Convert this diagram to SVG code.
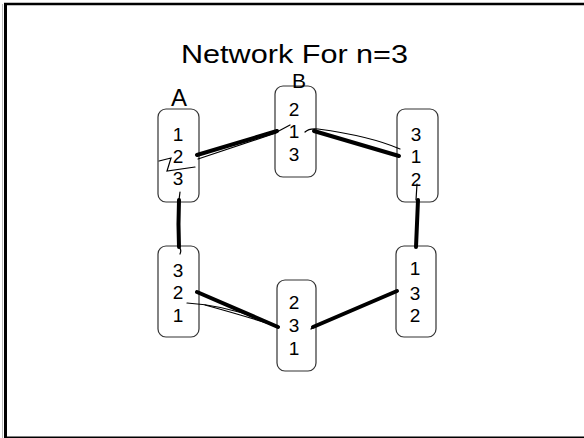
<svg xmlns="http://www.w3.org/2000/svg" width="584" height="438" viewBox="0 0 584 438">
<style>
.box{fill:#fff;stroke:#333;stroke-width:1.2}
.d{font-family:"Liberation Sans","DejaVu Sans",sans-serif;font-size:19px;fill:#000;text-anchor:middle}
.lbl{font-family:"Liberation Sans","DejaVu Sans",sans-serif;fill:#000;text-anchor:middle}
.thick{fill:none;stroke:#000;stroke-width:4;stroke-linecap:round}
.thin{fill:none;stroke:#000;stroke-width:1.2;stroke-linecap:round}
</style>
<rect x="0" y="0" width="584" height="438" fill="#fff"/>
<g id="frame">
<line x1="2.5" y1="4" x2="2.5" y2="438" stroke="#bbb" stroke-width="1"/>
<line x1="4" y1="4" x2="584" y2="4" stroke="#000" stroke-width="2.5"/>
<line x1="5.5" y1="3" x2="5.5" y2="438" stroke="#000" stroke-width="3"/>
<line x1="4" y1="437.3" x2="584" y2="437.3" stroke="#000" stroke-width="1.6"/>
</g>
<text id="title" x="294.5" y="63" font-family="Liberation Sans, DejaVu Sans, sans-serif" font-size="25" text-anchor="middle" textLength="227" lengthAdjust="spacingAndGlyphs">Network For n=3</text>
<g id="nodeA">
<rect class="box" x="158" y="109" width="41" height="93" rx="8"/>
<text class="d" x="178" y="141">1</text>
<text class="d" x="178" y="163">2</text>
<text class="d" x="178" y="185">3</text>
<text class="lbl" x="179" y="106" font-size="24">A</text>
</g>
<g id="nodeB">
<rect class="box" x="275" y="86" width="41" height="91" rx="8"/>
<text class="d" x="294" y="116">2</text>
<text class="d" x="294" y="138">1</text>
<text class="d" x="294" y="161">3</text>
<text class="lbl" x="299" y="88" font-size="21">B</text>
</g>
<g id="nodeC">
<rect class="box" x="397" y="109" width="41" height="93" rx="8"/>
<text class="d" x="416" y="141">3</text>
<text class="d" x="416" y="163">1</text>
<text class="d" x="416" y="186">2</text>
</g>
<g id="nodeD">
<rect class="box" x="158" y="246" width="41" height="91" rx="8"/>
<text class="d" x="178" y="277">3</text>
<text class="d" x="178" y="299">2</text>
<text class="d" x="178" y="322">1</text>
</g>
<g id="nodeE">
<rect class="box" x="277" y="280" width="39" height="91" rx="8"/>
<text class="d" x="294" y="309">2</text>
<text class="d" x="294" y="332">3</text>
<text class="d" x="294" y="355">1</text>
</g>
<g id="nodeF">
<rect class="box" x="396" y="246" width="40" height="91" rx="8"/>
<text class="d" x="415" y="275">1</text>
<text class="d" x="415" y="300">3</text>
<text class="d" x="415" y="322">2</text>
</g>
<g id="connectors">
<!-- A-B -->
<path class="thin" d="M159,161 L171,158 L167,171 L195,167"/>
<path class="thick" d="M197,155 L277,131" stroke-width="3.5"/>
<path class="thin" d="M198,159 L276,133"/>
<path class="thin" d="M275,133 L290,125"/>
<!-- B-C -->
<path class="thick" d="M314,131 L399,156"/>
<path class="thin" d="M305,132 Q309,128 318,129 Q370,136 400,149"/>
<!-- C-F -->
<path class="thin" d="M417,184 L416,200"/>
<path class="thick" d="M418,200 L416,247"/>
<!-- A-D -->
<path class="thin" d="M180,192 L179,200"/>
<path class="thick" d="M179,200 Q178,224 179,247"/>
<path class="thin" d="M179,247 Q182,250 180,254"/>
<!-- D-E -->
<path class="thick" d="M197,292 L278,327"/>
<path class="thin" d="M187,303 Q235,306 277,327"/>
<path class="thin" d="M205,305 Q245,316 276,326"/>
<!-- E-F -->
<path class="thick" d="M313,327 L397,291"/>
<path class="thin" d="M311,329 L314,326"/>
</g>
</svg>
